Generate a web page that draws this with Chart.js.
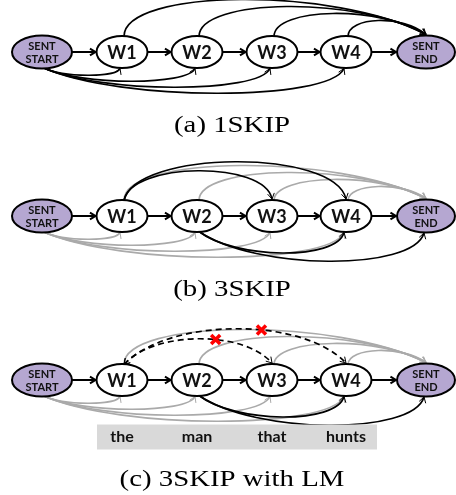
<!DOCTYPE html>
<html>
<head>
<meta charset="utf-8">
<script src="https://cdn.jsdelivr.net/npm/chart.js@4"></script>
<style>
  html, body { margin: 0; padding: 0; background: #fff; }
  canvas { display: block; }
</style>
</head>
<body>
<canvas id="skipChart" width="456" height="495"></canvas>
<script>
let nodeNames = ['SENT\nSTART', 'W1', 'W2', 'W3', 'W4', 'SENT\nEND'];
let nodeX = [42, 122, 197, 272, 346, 426];
let rowY = [52, 216, 380];
let captions = ['(a) 1SKIP', '(b) 3SKIP', '(c) 3SKIP with LM'];
let captionY = [132, 296, 486];
let lmWords = ['the', 'man', 'that', 'hunts'];
let lmWordNode = [1, 2, 3, 4];
let lmBoxY = 437;

// edges, [from, to] as node index
let chainEdges = [[0, 1], [1, 2], [2, 3], [3, 4], [4, 5]];
let endEdges = [[1, 5], [2, 5], [3, 5], [4, 5]];
let startEdges = [[0, 1], [0, 2], [0, 3], [0, 4]];
let skipTopEdges = [[1, 3], [1, 4]];
let skipBottomEdges = [[2, 4], [2, 5]];
let blockedEdges = [[1, 3], [1, 4]];

const BLACK = '#000';
const GRAY = '#aaaaaa';
const PURPLE = '#b5a7d1';


function nodePos(chart, row, i) {
    let el = chart.getDatasetMeta(0).data[row * nodeX.length + i];
    return { x: el.x, y: el.y };
}


function rx(i) {
    if (i == 0) return 30;
    if (i == nodeX.length - 1) return 29;
    return 25.5;
}


function ry(i) {
    if (i == 0 || i == nodeX.length - 1) return 16.5;
    return 16;
}


function arrowHead(ctx, tx, ty, fx, fy, color) {
    let a = Math.atan2(ty - fy, tx - fx);
    let len = 6.5;
    ctx.save();
    ctx.setLineDash([]);
    ctx.strokeStyle = color;
    ctx.beginPath();
    ctx.moveTo(tx - len * Math.cos(a - 0.55), ty - len * Math.sin(a - 0.55));
    ctx.lineTo(tx, ty);
    ctx.lineTo(tx - len * Math.cos(a + 0.55), ty - len * Math.sin(a + 0.55));
    ctx.stroke();
    ctx.restore();
}


function curve(ctx, p0, p1, p2, p3, color, width, dash) {
    ctx.save();
    ctx.strokeStyle = color;
    ctx.lineWidth = width;
    ctx.setLineDash(dash || []);
    ctx.beginPath();
    ctx.moveTo(p0[0], p0[1]);
    ctx.bezierCurveTo(p1[0], p1[1], p2[0], p2[1], p3[0], p3[1]);
    ctx.stroke();
    ctx.restore();
}


function topArc(ctx, chart, row, edge, h, lead, trail, color, dash) {
    let A = nodePos(chart, row, edge[0]);
    let B = nodePos(chart, row, edge[1]);
    let p0 = [A.x + 2, A.y - ry(edge[0]) + 0.5];
    let p3 = [B.x, B.y - ry(edge[1]) - 1];
    let dx = p3[0] - p0[0];
    let k = h / 0.75;
    let p1 = [p0[0] + lead * dx, p0[1] - k];
    let p2 = [p3[0] - trail * dx, p3[1] - k];
    curve(ctx, p0, p1, p2, p3, color, 1.7, dash);
    arrowHead(ctx, p3[0], p3[1], p2[0], p2[1], color);
    return [p0, p1, p2, p3];
}


function bottomArc(ctx, chart, row, edge, h, color) {
    let A = nodePos(chart, row, edge[0]);
    let B = nodePos(chart, row, edge[1]);
    let p0 = [A.x + 2, A.y + ry(edge[0]) - 0.5];
    let p3 = [B.x - 2, B.y + ry(edge[1]) + 0.5];
    let dx = p3[0] - p0[0];
    let k = h / 0.75;
    let p1 = [p0[0] + 0.25 * dx, p0[1] + k];
    let p2 = [p3[0] - 0.05 * dx, p3[1] + k];
    curve(ctx, p0, p1, p2, p3, color, 1.7);
    arrowHead(ctx, p3[0], p3[1], p2[0], p2[1], color);
}


function bezierAt(p, t) {
    let u = 1 - t;
    return [
        u * u * u * p[0][0] + 3 * u * u * t * p[1][0] + 3 * u * t * t * p[2][0] + t * t * t * p[3][0],
        u * u * u * p[0][1] + 3 * u * u * t * p[1][1] + 3 * u * t * t * p[2][1] + t * t * t * p[3][1]
    ];
}


function drawChain(ctx, chart, row) {
    chainEdges.forEach(e => {
        let A = nodePos(chart, row, e[0]);
        let B = nodePos(chart, row, e[1]);
        let x0 = A.x + rx(e[0]);
        let x1 = B.x - rx(e[1]) - 1;
        ctx.save();
        ctx.strokeStyle = BLACK;
        ctx.lineWidth = 2;
        ctx.beginPath();
        ctx.moveTo(x0, A.y);
        ctx.lineTo(x1, B.y);
        ctx.stroke();
        arrowHead(ctx, x1, B.y, x0, A.y, BLACK);
        ctx.restore();
    });
}


function drawNodes(ctx, chart, row) {
    nodeNames.forEach((name, i) => {
        let p = nodePos(chart, row, i);
        let purple = name.indexOf('\n') >= 0;
        ctx.save();
        ctx.beginPath();
        ctx.ellipse(p.x, p.y, rx(i), ry(i), 0, 0, Math.PI * 2);
        ctx.fillStyle = purple ? PURPLE : '#fff';
        ctx.fill();
        ctx.lineWidth = 2;
        ctx.strokeStyle = BLACK;
        ctx.stroke();
        ctx.fillStyle = '#111';
        ctx.textAlign = 'center';
        ctx.textBaseline = 'middle';
        if (purple) {
            let lines = name.split('\n');
            ctx.font = 'bold 11px Lato';
            ctx.fillText(lines[0], p.x, p.y - 6);
            ctx.fillText(lines[1], p.x, p.y + 7);
        } else {
            ctx.font = 'bold 18px Lato';
            ctx.fillText(name, p.x, p.y + 1);
        }
        ctx.restore();
    });
}


function redCross(ctx, x, y) {
    let s = 4.5;
    ctx.save();
    ctx.strokeStyle = '#f00';
    ctx.lineWidth = 3.5;
    ctx.beginPath();
    ctx.moveTo(x - s, y - s);
    ctx.lineTo(x + s, y + s);
    ctx.moveTo(x + s, y - s);
    ctx.lineTo(x - s, y + s);
    ctx.stroke();
    ctx.restore();
}


function drawCaption(ctx, chart, text, y) {
    let cx = chart.scales.x.getPixelForValue(232);
    let cy = chart.scales.y.getPixelForValue(y);
    ctx.save();
    ctx.translate(cx, cy);
    ctx.scale(1.2, 1);
    ctx.font = '24px "Liberation Serif"';
    ctx.fillStyle = '#000';
    ctx.textAlign = 'center';
    ctx.textBaseline = 'alphabetic';
    ctx.fillText(text, 0, 0);
    ctx.restore();
}


function drawWordBox(ctx, chart) {
    let sx = chart.scales.x;
    let sy = chart.scales.y;
    let left = sx.getPixelForValue(97);
    let right = sx.getPixelForValue(377);
    let yc = sy.getPixelForValue(lmBoxY);
    ctx.save();
    ctx.fillStyle = '#d9d9d9';
    ctx.fillRect(left, yc - 12.5, right - left, 25);
    ctx.fillStyle = '#111';
    ctx.font = 'bold 16px Lato';
    ctx.textAlign = 'center';
    ctx.textBaseline = 'middle';
    lmWords.forEach((w, i) => {
        ctx.fillText(w, sx.getPixelForValue(nodeX[lmWordNode[i]]), yc);
    });
    ctx.restore();
}


const diagramPlugin = {
    id: 'skipDiagram',
    afterDatasetsDraw(chart) {
        let ctx = chart.ctx;
        let span = e => e[1] - e[0];

        // (a) 1SKIP
        endEdges.forEach(e => topArc(ctx, chart, 0, e, 8 + 7 * span(e), 0, 0.3, BLACK));
        startEdges.forEach(e => bottomArc(ctx, chart, 0, e, 1 + 6 * span(e), BLACK));

        // (b) 3SKIP and (c) 3SKIP with LM
        [1, 2].forEach(row => {
            endEdges.forEach(e => topArc(ctx, chart, row, e, 6 + 7 * span(e), 0, 0.3, GRAY));
            startEdges.forEach(e => bottomArc(ctx, chart, row, e, 1 + 6 * span(e), GRAY));
            skipBottomEdges.forEach(e => bottomArc(ctx, chart, row, e, 5 + 8 * span(e), BLACK));
        });
        skipTopEdges.forEach(e => topArc(ctx, chart, 1, e, 11 + 9 * span(e), 0.05, 0.05, BLACK));

        let crosses = [];
        blockedEdges.forEach(e => {
            let p = topArc(ctx, chart, 2, e, 5 + 10 * span(e), 0.2, 0.2, BLACK, [6, 4]);
            arrowHead(ctx, p[0][0], p[0][1], p[1][0], p[1][1], BLACK);
            crosses.push(bezierAt(p, 0.6));
        });

        rowY.forEach((y, row) => {
            drawChain(ctx, chart, row);
            drawNodes(ctx, chart, row);
        });

        crosses.forEach(c => redCross(ctx, c[0], c[1]));
        drawWordBox(ctx, chart);
        captions.forEach((c, i) => drawCaption(ctx, chart, c, captionY[i]));
    }
};


let nodePoints = [];
rowY.forEach(y => nodeX.forEach(x => nodePoints.push({ x: x, y: y })));

new Chart('skipChart', {
    type: 'scatter',
    data: {
        datasets: [{
            data: nodePoints,
            pointRadius: 0,
            pointHoverRadius: 0
        }]
    },
    options: {
        responsive: false,
        animation: false,
        events: [],
        layout: { padding: 0 },
        scales: {
            x: { type: 'linear', min: 0, max: 456, display: false },
            y: { type: 'linear', min: 0, max: 495, reverse: true, display: false }
        },
        plugins: {
            legend: { display: false },
            tooltip: { enabled: false }
        }
    },
    plugins: [diagramPlugin]
});
</script>
</body>
</html>
